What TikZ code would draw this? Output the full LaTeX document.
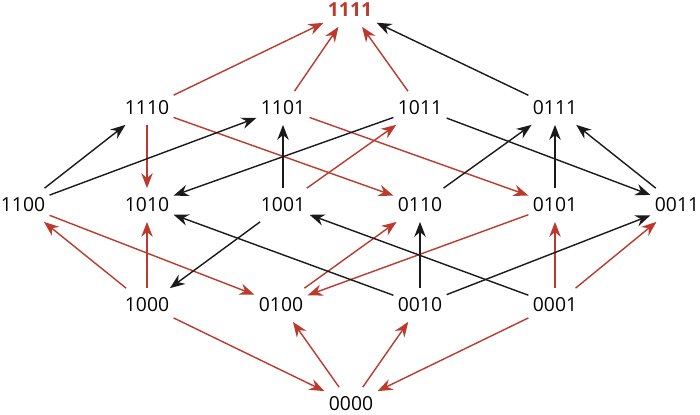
\documentclass[tikz,border=0pt]{standalone}
\usepackage{fontspec}
\setmainfont{Open Sans}
\usepackage{tikz}
\usetikzlibrary{arrows.meta}
\definecolor{latRed}{HTML}{BC3A2D}
\definecolor{ink}{HTML}{1A1A1A}

\begin{document}
\begin{tikzpicture}[x=0.02cm,y=-0.02cm,
  vtx/.style={inner sep=0pt,minimum width=1.05cm,minimum height=0.66cm,font=\fontsize{11}{13}\selectfont},
  top/.style={vtx,font=\fontsize{11}{13}\selectfont\bfseries,text=latRed},
  arr/.style={-{Stealth[length=0.3cm,width=0.23cm]},line width=0.8pt,color=ink},
  rarr/.style={arr,color=latRed}
]
  \useasboundingbox (0,0) rectangle (700,414);
  % levels, top to bottom
  \node[top] (n1111) at (350,10) {1111};
  \node[vtx] (n1110) at (147,108) {1110};
  \node[vtx] (n1101) at (283,108) {1101};
  \node[vtx] (n1011) at (420,108) {1011};
  \node[vtx] (n0111) at (555,108) {0111};
  \node[vtx] (n1100) at (23,205) {1100};
  \node[vtx] (n1010) at (147,205) {1010};
  \node[vtx] (n1001) at (283,205) {1001};
  \node[vtx] (n0110) at (420,205) {0110};
  \node[vtx] (n0101) at (555,205) {0101};
  \node[vtx] (n0011) at (677,205) {0011};
  \node[vtx] (n1000) at (147,305) {1000};
  \node[vtx] (n0100) at (281,305) {0100};
  \node[vtx] (n0010) at (420,305) {0010};
  \node[vtx] (n0001) at (555,305) {0001};
  \node[vtx] (n0000) at (351,404) {0000};
  % red path
  \draw[rarr] (n1000) -- (n0000);
  \draw[rarr] (n0000) -- (n0100);
  \draw[rarr] (n0000) -- (n0010);
  \draw[rarr] (n0001) -- (n0000);
  \draw[rarr] (n1000) -- (n1100);
  \draw[rarr] (n1000) -- (n1010);
  \draw[rarr] (n1100) -- (n0100);
  \draw[rarr] (n0100) -- (n0110);
  \draw[rarr] (n0101) -- (n0100);
  \draw[rarr] (n0001) -- (n0101);
  \draw[rarr] (n0001) -- (n0011);
  \draw[rarr] (n1110) -- (n1010);
  \draw[rarr] (n1110) -- (n0110);
  \draw[rarr] (n1101) -- (n0101);
  \draw[rarr] (n1001) -- (n1011);
  \draw[rarr] (n1110) -- (n1111);
  \draw[rarr] (n1101) -- (n1111);
  \draw[rarr] (n1011) -- (n1111);
  % black
  \draw[arr] (n1001) -- (n1000);
  \draw[arr] (n0010) -- (n1010);
  \draw[arr] (n0010) -- (n0110);
  \draw[arr] (n0010) -- (n0011);
  \draw[arr] (n0001) -- (n1001);
  \draw[arr] (n1100) -- (n1110);
  \draw[arr] (n1100) -- (n1101);
  \draw[arr] (n1001) -- (n1101);
  \draw[arr] (n1011) -- (n1010);
  \draw[arr] (n1011) -- (n0011);
  \draw[arr] (n0110) -- (n0111);
  \draw[arr] (n0101) -- (n0111);
  \draw[arr] (n0011) -- (n0111);
  \draw[arr] (n0111) -- (n1111);
\end{tikzpicture}
\end{document}
